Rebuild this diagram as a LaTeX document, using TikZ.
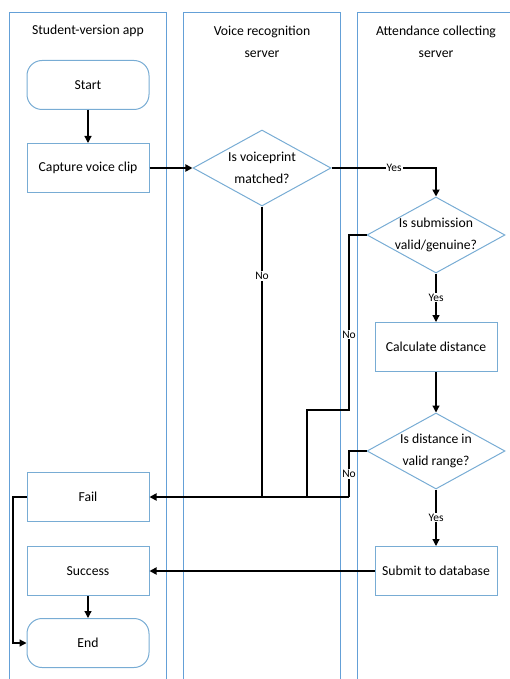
\documentclass[tikz,border=0pt]{standalone}
\usepackage{fontspec}
\setmainfont{Carlito}
\usetikzlibrary{shapes.geometric,arrows.meta}
\definecolor{lanec}{RGB}{100,160,215}
\definecolor{boxc}{RGB}{120,172,212}
\begin{document}
\begin{tikzpicture}[x=1pt,y=-1pt,
  lanebox/.style={draw=lanec,line width=0.9pt},
  lanetitle/.style={font=\fontsize{13.7}{22}\selectfont,align=center},
  proc/.style={draw=boxc,line width=1pt,minimum width=122pt,minimum height=49pt,inner sep=0pt,font=\fontsize{13.7}{16}\selectfont},
  term/.style={proc,rounded corners=15pt},
  dec/.style={diamond,draw=boxc,line width=1pt,aspect=1.8,inner sep=-5pt,minimum width=138pt,minimum height=76pt,align=center,font=\fontsize{13.7}{22}\selectfont},
  thk/.style={line width=1.7pt},
  thn/.style={line width=1.2pt},
  arr/.style={-{Triangle[length=7pt,width=7pt]}},
  lbl/.style={fill=white,inner sep=1pt,font=\fontsize{11.5}{12}\selectfont}
]
\useasboundingbox (0,0) rectangle (510,679);
\begin{scope}
  \clip (0,0) rectangle (510,679);
  \draw[lanebox] (9,12) rectangle (166,690);
  \draw[lanebox] (183,12) rectangle (340,690);
  \draw[lanebox] (357,12) rectangle (525,690);
\end{scope}
\node[lanetitle] (t1) at (88,31) {Student-version app};
\node[lanetitle] (t2) at (262,42) {Voice recognition\\server};
\node[lanetitle] (t3) at (436,42) {Attendance collecting\\server};

\node[term] (start) at (88,85) {Start};
\node[proc] (capture) at (88,168) {Capture voice clip};
\node[dec] (d1) at (262,168) {Is voiceprint\\matched?};
\node[dec] (d2) at (436,235) {Is submission\\valid/genuine?};
\node[proc] (calc) at (436,347) {Calculate distance};
\node[dec] (d3) at (436,451) {Is distance in\\valid range?};
\node[proc] (submit) at (436,571) {Submit to database};
\node[proc] (fail) at (88,497) {Fail};
\node[proc] (success) at (88,571) {Success};
\node[term] (end) at (88,643) {End};

\coordinate (n2a) at (349,235);
\coordinate (n2b) at (349,410);
\coordinate (n2c) at (307,410);
\coordinate (n2d) at (307,497);
\coordinate (n3a) at (349,451);
\coordinate (n3b) at (349,497);
\coordinate (f1) at (13,497);
\coordinate (f2) at (13,643);

\draw[thn,arr] (start) -- (capture);
\draw[thk,arr] (capture) -- (d1);
\draw[thk,arr] (d1.east) -| node[lbl,pos=0.3] {Yes} (d2.north);
\draw[thn,arr] (d2.south) -- node[lbl] {Yes} (calc.north);
\draw[thn,arr] (calc) -- (d3.north);
\draw[thn,arr] (d3.south) -- node[lbl] {Yes} (submit.north);
\draw[thk,arr] (submit) -- (success);
\draw[thn,arr] (success) -- (end);

\draw[thn] (d1.south) -- node[lbl,pos=0.24] {No} (d1.south |- fail.east);
\draw[thn] (d2.west) -- (n2a) -- node[lbl,pos=0.57] {No} (n2b) -- (n2c) -- (n2d);
\draw[thn] (d3.west) -- (n3a) -- node[lbl,pos=0.5] {No} (n3b);
\draw[thk,arr] (n3b) -- (fail.east);
\draw[thn,arr] (fail.west) -- (f1) -- (f2) -- (end.west);
\end{tikzpicture}
\end{document}
